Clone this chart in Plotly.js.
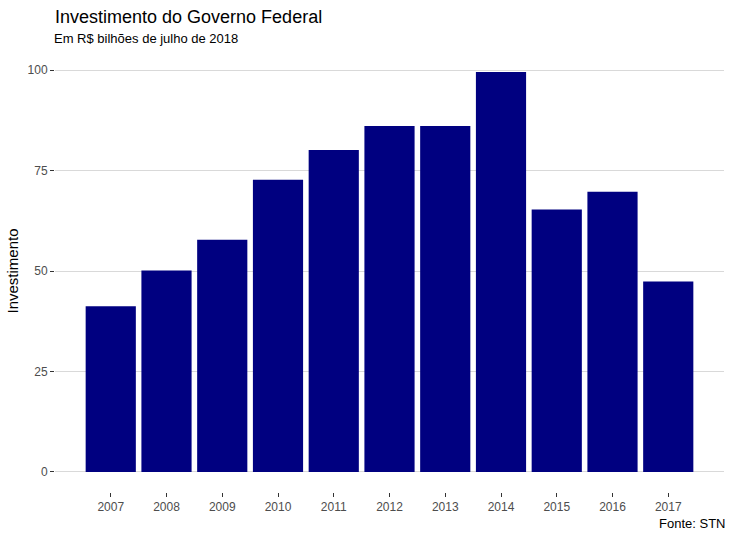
<!DOCTYPE html>
<html>
<head>
<meta charset="utf-8">
<script src="https://cdn.plot.ly/plotly-3.0.1.min.js"></script>
<style>html,body{margin:0;padding:0;background:#fff;}#chart{width:732px;height:535px;}</style>
</head>
<body>
<div id="chart"></div>
<script>
const anos = [2007, 2008, 2009, 2010, 2011, 2012, 2013, 2014, 2015, 2016, 2017];
const investimento = [41.2, 50.1, 57.8, 72.7, 80.1, 86.1, 86.1, 99.5, 65.3, 69.7, 47.4];
const yTicks = [0, 25, 50, 75, 100];
const tituloTexto = 'Investimento do Governo Federal';
const subtituloTexto = 'Em R$ bilhões de julho de 2018';
const fonteTexto = 'Fonte: STN';
const eixoY = 'Investimento';

const fontFam = '"Liberation Sans", Arial, sans-serif';

const trace = {
  type: 'bar',
  x: anos,
  y: investimento,
  width: 0.9,
  marker: {color: '#000080', line: {width: 0}},
  hoverinfo: 'x+y'
};

const layout = {
  width: 732,
  height: 535,
  margin: {l: 55, r: 8, t: 50, b: 43},
  paper_bgcolor: '#ffffff',
  plot_bgcolor: '#ffffff',
  font: {family: fontFam, color: '#4d4d4d'},
  showlegend: false,
  title: {
    text: tituloTexto,
    font: {family: fontFam, size: 18, color: '#000000'},
    xref: 'paper', x: 0, xanchor: 'left',
    yref: 'container', y: 1 - 17/535, yanchor: 'middle'
  },
  xaxis: {
    range: [2006, 2018],
    tickvals: anos,
    ticktext: anos.map(String),
    showgrid: false,
    zeroline: false,
    showline: false,
    ticks: 'outside',
    ticklen: 4,
    tickwidth: 1,
    tickcolor: '#333333',
    tickfont: {family: fontFam, size: 12, color: '#4d4d4d'}
  },
  yaxis: {
    range: [-5, 105],
    tickvals: yTicks,
    showgrid: true,
    gridcolor: '#d9d9d9',
    gridwidth: 1,
    zeroline: false,
    showline: false,
    ticks: 'outside',
    ticklen: 4,
    tickwidth: 1,
    tickcolor: '#333333',
    tickfont: {family: fontFam, size: 12, color: '#4d4d4d'},
    title: {text: eixoY, font: {family: fontFam, size: 15, color: '#000000'}, standoff: 5}
  },
  annotations: [
    {
      text: subtituloTexto,
      xref: 'paper', x: 0, xanchor: 'left', xshift: -3,
      yref: 'paper', y: 1, yanchor: 'middle', yshift: 12,
      showarrow: false,
      font: {family: fontFam, size: 13, color: '#000000'}
    },
    {
      text: fonteTexto,
      xref: 'paper', x: 1, xanchor: 'right', xshift: 3,
      yref: 'paper', y: 0, yanchor: 'middle', yshift: -31,
      showarrow: false,
      font: {family: fontFam, size: 13, color: '#000000'}
    }
  ]
};

Plotly.newPlot('chart', [trace], layout, {displayModeBar: false, staticPlot: true});
</script>
</body>
</html>
